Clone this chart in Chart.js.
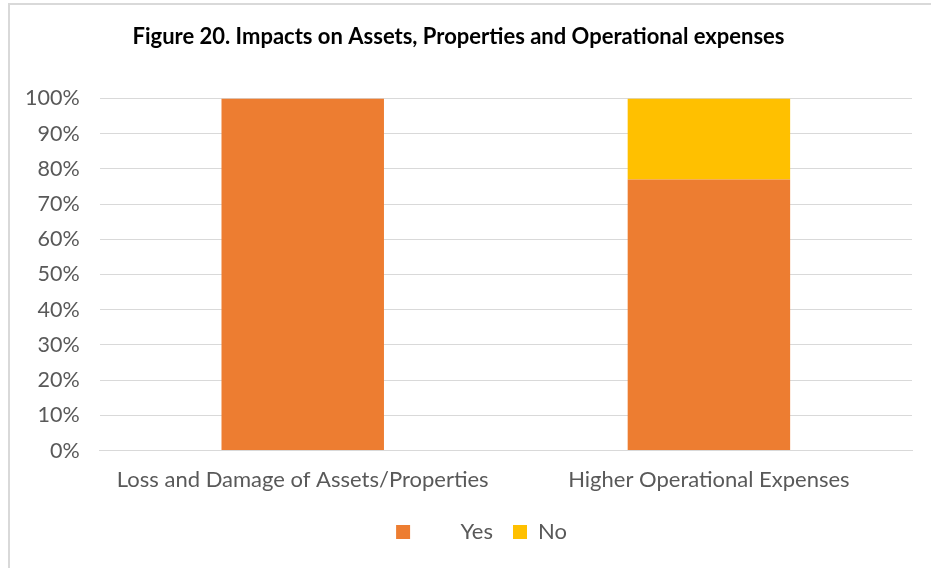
<!DOCTYPE html>
<html>
<head>
<meta charset="utf-8">
<script src="https://cdn.jsdelivr.net/npm/chart.js@4/dist/chart.umd.min.js"></script>
<style>
  html, body { margin: 0; padding: 0; background: #ffffff; overflow: hidden; }
  #wrap { position: absolute; left: 0; top: 0; width: 931px; height: 568px; }
  #frame {
    position: absolute; left: 8px; top: 3px; width: 940px; height: 600px;
    border: 2px solid #d9d9d9; box-sizing: border-box; pointer-events: none;
  }
</style>
</head>
<body>
<div id="wrap">
  <canvas id="impactChart" width="931" height="568"></canvas>
  <div id="frame"></div>
</div>
<script>
const categories = ["Loss and Damage of Assets/Properties", "Higher Operational Expenses"];
const yesValues = [100, 77];
const noValues = [0, 23];
const seriesNames = ["Yes", "No"];

const textGray = "#595959";
const gridGray = "#d9d9d9";

// the legend sits a little right of centre in the original
const legendShift = {
  id: "legendShift",
  afterLayout(chart) {
    chart.legend.left += 23;
    chart.legend.right += 23;
  },
};

const ctx = document.getElementById("impactChart").getContext("2d");

new Chart(ctx, {
  type: "bar",
  data: {
    labels: categories,
    datasets: [
      {
        label: seriesNames[0],
        data: yesValues,
        backgroundColor: "#ED7D31",
        categoryPercentage: 1,
        barPercentage: 0.4,
      },
      {
        label: seriesNames[1],
        data: noValues,
        backgroundColor: "#FFC000",
        categoryPercentage: 1,
        barPercentage: 0.4,
      },
    ],
  },
  options: {
    responsive: false,
    animation: false,
    layout: { padding: { left: 5, right: 19, top: 18, bottom: 15 } },
    scales: {
      x: {
        stacked: true,
        grid: { display: false },
        border: { color: gridGray },
        ticks: { color: textGray, font: { family: "Lato", size: 22 }, padding: 8 },
      },
      y: {
        stacked: true,
        min: 0,
        max: 100,
        grid: { color: gridGray, drawTicks: false },
        border: { display: false },
        ticks: {
          stepSize: 10,
          color: textGray,
          padding: 20,
          font: { family: "Lato", size: 21.5 },
          callback: (v) => v + "%",
        },
      },
    },
    plugins: {
      title: {
        display: true,
        text: "Figure 20. Impacts on Assets, Properties and Operational expenses",
        color: "#000000",
        font: { family: "Lato", size: 22, weight: "bold" },
        padding: { top: 6, bottom: 48 },
      },
      legend: {
        position: "bottom",
        labels: {
          color: textGray,
          font: { family: "Lato", size: 22 },
          boxWidth: 14,
          boxHeight: 14,
          padding: 20,
          generateLabels: (chart) =>
            chart.data.datasets.map((ds, i) => ({
              text: i === 0 ? "       " + ds.label : ds.label,
              fillStyle: ds.backgroundColor,
              strokeStyle: ds.backgroundColor,
              lineWidth: 0,
              fontColor: textGray,
              datasetIndex: i,
            })),
        },
      },
      tooltip: { enabled: false },
    },
  },
  plugins: [legendShift],
});
</script>
</body>
</html>
